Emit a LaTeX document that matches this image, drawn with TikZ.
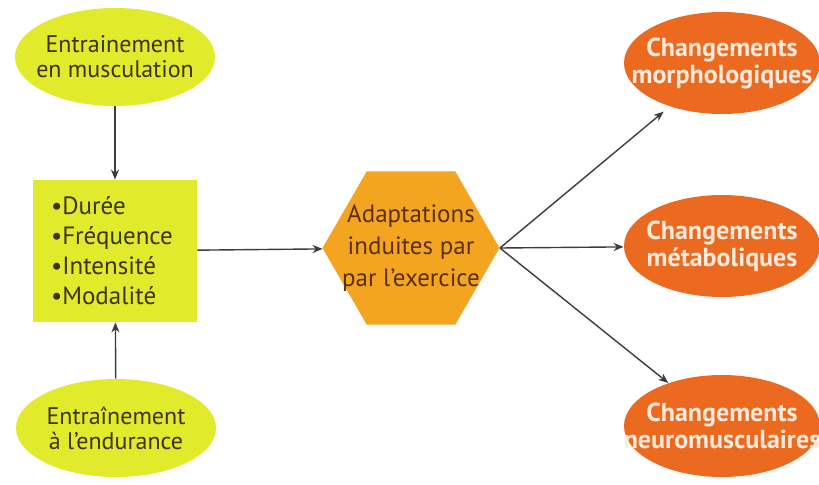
\documentclass[tikz,border=0pt]{standalone}
\usepackage{fontspec}
\setmainfont{PT Sans}
\usetikzlibrary{arrows.meta,positioning,shapes.geometric}
\definecolor{LimeFill}{HTML}{E2EA2C}
\definecolor{LimeText}{HTML}{3A3412}
\definecolor{HexFill}{HTML}{F3A421}
\definecolor{HexText}{HTML}{5A3010}
\definecolor{OutFill}{HTML}{EC6A1F}
\definecolor{OutText}{HTML}{FCEBDD}
\definecolor{LineGrey}{HTML}{3C3C3C}
\tikzset{>={Stealth[length=5pt,width=4pt]},
 source/.style={ellipse,fill=LimeFill,minimum width=100pt,minimum height=49pt,
 label={[text=LimeText,align=center,font=\fontsize{12}{12.5}\selectfont]center:#1}},
 params/.style={rectangle,fill=LimeFill,text=LimeText,minimum width=82pt,
 minimum height=71pt,text width=64pt,align=left,font=\fontsize{12.5}{15}\selectfont},
 hexa/.style={regular polygon,regular polygon sides=6,fill=HexFill,minimum size=88.5pt,
 inner sep=0pt,label={[text=HexText,align=center,font=\fontsize{12.5}{16}\selectfont]center:#1}},
 result/.style={ellipse,fill=OutFill,minimum width=98pt,minimum height=51pt,
 label={[text=OutText,align=center,font=\bfseries\fontsize{13}{13.5}\selectfont]center:#1}},
 link/.style={draw=LineGrey,line width=.7pt,->}}
\begin{document}
\begin{tikzpicture}[x=.5pt,y=.5pt]
\clip (0,0) rectangle (819,484);
\fill[white] (0,0) rectangle (819,484);
% training inputs, the parameter box, the hexagon and three outcomes
\node[source={Entrainement\\en musculation}] (musc) at (115,427) {};
\node[params] (param) at (115,233) {•Durée\\•Fréquence\\•Intensité\\•Modalité};
\node[source={Entraînement\\à l’endurance}] (endu) at (116,56) {};
\node[hexa={Adaptations\\induites par\\par l’exercice}] (adapt) at (411,236) {};
\node[result={Changements\\morphologiques}] (morpho) at (722,421) {};
\node[result={Changements\\métaboliques}] (meta) at (722,238) {};
\node[result={Changements\\neuromusculaires}] (neuro) at (722,58) {};
\draw[link] (musc) -- (param);
\draw[link] (endu) -- (param);
\draw[link] (param) -- (adapt);
\draw[link,shorten >=4pt] (adapt.east) -- (morpho);
\draw[link] (adapt.east) -- (meta);
\draw[link] (adapt.east) -- (neuro);
\end{tikzpicture}
\end{document}
